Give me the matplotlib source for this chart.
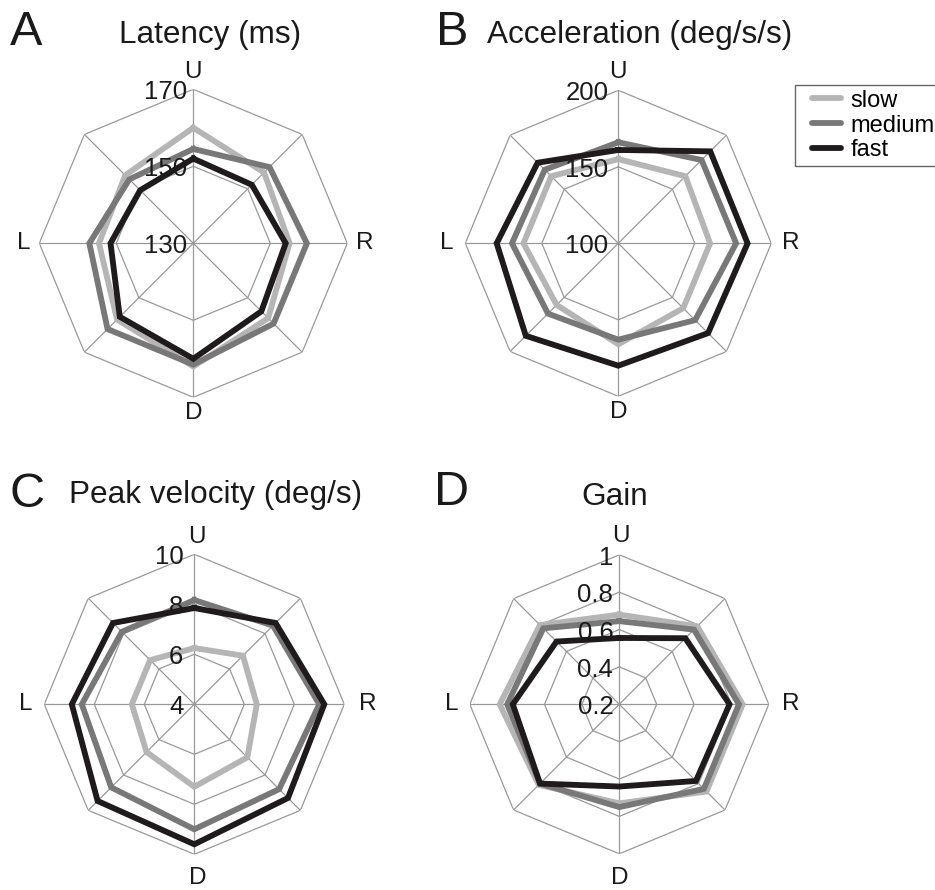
import numpy as np
import matplotlib.pyplot as plt
from matplotlib.lines import Line2D
from matplotlib.legend_handler import HandlerLine2D

plt.rcParams['font.family'] = ['Liberation Sans', 'DejaVu Sans']

# directions clockwise from up
directions = ['U', 'UR', 'R', 'DR', 'D', 'DL', 'L', 'UL']
speeds = ['slow', 'medium', 'fast']
speed_colors = ['#b5b5b5', '#787878', '#1f1b1c']
grid_color = '#999999'

# latency (ms)
latency_slow = [160, 156, 155, 157.5, 162, 158, 154.5, 155]
latency_medium = [154.5, 158, 159.5, 159.5, 161.5, 161.5, 157, 153.5]
latency_fast = [152, 151.5, 154, 155, 160, 157, 151.5, 149.5]
latency_ticks = [130, 150, 170]

# acceleration (deg/s/s)
accel_slow = [155, 162, 160, 160, 166, 157, 162, 162]
accel_medium = [166, 177, 177, 171, 163, 165, 169.5, 168]
accel_fast = [161, 185, 184.5, 183, 180, 185.5, 179.5, 174.5]
accel_ticks = [100, 150, 200]

# peak velocity (deg/s)
velocity_slow = [6.25, 6.75, 6.5, 7.0, 7.3, 6.7, 6.5, 6.5]
velocity_medium = [8.17, 8.45, 9.0, 8.8, 9.0, 8.7, 8.5, 8.1]
velocity_fast = [7.85, 8.6, 9.2, 9.3, 9.6, 9.47, 8.9, 8.6]
velocity_ticks = [4, 6, 8, 10]

# gain
gain_slow = [0.68, 0.79, 0.86, 0.86, 0.73, 0.81, 0.84, 0.80]
gain_medium = [0.645, 0.765, 0.84, 0.84, 0.75, 0.80, 0.80, 0.775]
gain_fast = [0.555, 0.70, 0.79, 0.78, 0.64, 0.80, 0.77, 0.675]
gain_ticks = [0.2, 0.4, 0.6, 0.8, 1.0]
gain_tick_labels = ['0.2', '0.4', '0.6', '0.8', '1']

W, H = 935, 890
fig = plt.figure(figsize=(W / 100, H / 100), dpi=100)

theta = np.deg2rad(np.arange(8) * 45.0)
theta_closed = np.append(theta, theta[0])
LW = 4.2


def radar(cx, cy, r, series, ticks, tick_labels, tick_dx, lab_off):
    ax = fig.add_axes([(cx - r) / W, (H - cy - r) / H, 2 * r / W, 2 * r / H],
                      projection='polar')
    ax.set_theta_zero_location('N')
    ax.set_theta_direction(-1)
    ax.set_ylim(ticks[0], ticks[-1])
    ax.grid(False)
    ax.set_xticks([])
    ax.set_yticks([])
    ax.spines['polar'].set_visible(False)
    ax.patch.set_visible(False)

    # octagon rings and spokes
    for lvl in ticks[1:]:
        ax.plot(theta_closed, [lvl] * 9, color=grid_color, lw=0.9, zorder=1)
    for t in theta:
        ax.plot([t, t], [ticks[0], ticks[-1]], color=grid_color, lw=0.9, zorder=1)

    for vals, c in zip(series, speed_colors):
        v = np.append(vals, vals[0])
        ax.plot(theta_closed, v, color=c, lw=LW, solid_joinstyle='miter',
                zorder=3, clip_on=False)

    for lvl, txt in zip(ticks, tick_labels):
        ax.annotate(txt, xy=(0, lvl), xytext=(tick_dx, -3),
                    textcoords='offset pixels', ha='right', va='center',
                    fontsize=18.5, color='#1a1a1a', zorder=4)

    for name, ang, (dx, dy) in zip(['U', 'R', 'D', 'L'], [0, 90, 180, 270], lab_off):
        ax.annotate(name, xy=(np.deg2rad(ang), ticks[-1]), xytext=(dx, dy),
                    textcoords='offset pixels', ha='center', va='center',
                    fontsize=17.5, color='#1a1a1a')
    return ax


radar(193.3, 243.3, 154, [latency_slow, latency_medium, latency_fast],
      latency_ticks, [str(t) for t in latency_ticks], -6,
      [(0, 17), (17, 0), (0, -16), (-16, 0)])
radar(618.3, 243.3, 153, [accel_slow, accel_medium, accel_fast],
      accel_ticks, [str(t) for t in accel_ticks], -10,
      [(0, 18), (19, 0), (0, -16), (-19, 0)])
radar(194.3, 704.3, 150, [velocity_slow, velocity_medium, velocity_fast],
      velocity_ticks, [str(t) for t in velocity_ticks], -11,
      [(3, 17), (23, 0), (3, -24), (-19, 0)])
radar(619.3, 704.3, 149.5, [gain_slow, gain_medium, gain_fast],
      gain_ticks, gain_tick_labels, -6,
      [(2, 19), (22, 0), (0, -24), (-18, 0)])

# panel letters and titles
letters = [('A', 10, 45), ('B', 436, 45), ('C', 10, 507), ('D', 434, 505)]
for s, x, y in letters:
    fig.text(x / W, 1 - y / H, s, fontsize=35, ha='left', va='baseline',
             color='#1a1a1a')

titles = [('Latency (ms)', 210, 43), ('Acceleration (deg/s/s)', 640, 43),
          ('Peak velocity (deg/s)', 216, 503), ('Gain', 615, 505)]
for s, x, y in titles:
    fig.text(x / W, 1 - y / H, s, fontsize=22.7, ha='center', va='baseline',
             color='#1a1a1a')

handles = [Line2D([], [], color=c, lw=LW, solid_capstyle='round')
           for c in speed_colors]
leg = fig.legend(handles, speeds, loc='upper left',
                 bbox_to_anchor=(795 / W, 1 - 85 / H), bbox_transform=fig.transFigure,
                 fontsize=17, frameon=True, fancybox=False, borderaxespad=0,
                 borderpad=0.2, labelspacing=0.12, handlelength=1.76,
                 handletextpad=0.4,
                 handler_map={Line2D: HandlerLine2D(xpad=0.53)})
leg.get_frame().set_edgecolor('#404040')
leg.get_frame().set_linewidth(1.0)

fig.savefig('out.png', dpi=100)
